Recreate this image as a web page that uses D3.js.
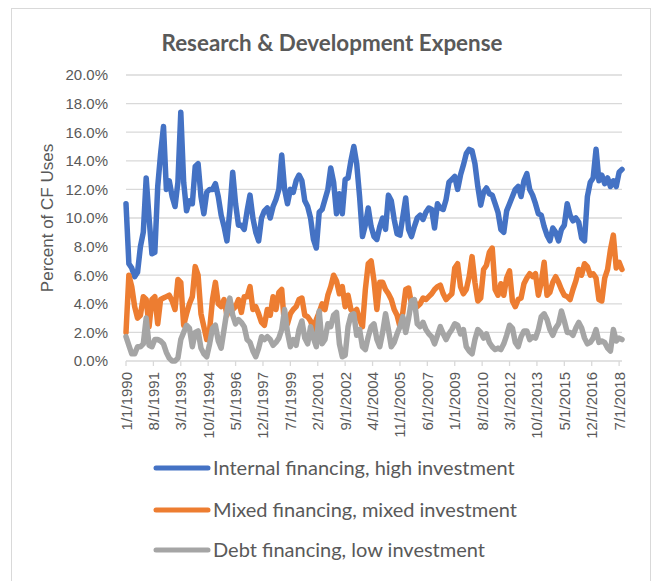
<!DOCTYPE html>
<html lang="en">
<head>
<meta charset="UTF-8">
<title>Research &amp; Development Expense</title>
<script src="https://d3js.org/d3.v7.min.js"></script>
<style>
  body { margin: 0; background: #fff; }
  svg { display: block; }
  .tick-label { font-family: "Liberation Sans", Arial, sans-serif; font-size: 15px; fill: #595959; }
  .axis-title { font-family: "Liberation Sans", Arial, sans-serif; font-size: 17px; fill: #595959; }
  .chart-title { font-family: Lato, "Open Sans", sans-serif; font-size: 22.4px; font-weight: bold; fill: #595959; }
  .legend-text { font-family: Lato, "Open Sans", sans-serif; font-size: 20px; fill: #595959; }
</style>
</head>
<body>
<svg id="chart" width="653" height="581"></svg>
<script>
// one reading every two months, counted from 1/1/1990
const monthIndex = d3.range(0, 345, 2);

const tickMonths = [0, 19, 38, 57, 76, 95, 114, 133, 152, 171, 190, 209, 228, 247, 266, 285, 304, 323, 342];
const tickLabels = ["1/1/1990", "8/1/1991", "3/1/1993", "10/1/1994", "5/1/1996", "12/1/1997", "7/1/1999",
    "2/1/2001", "9/1/2002", "4/1/2004", "11/1/2005", "6/1/2007", "1/1/2009", "8/1/2010", "3/1/2012",
    "10/1/2013", "5/1/2015", "12/1/2016", "7/1/2018"];

const yTicks = [0, 0.02, 0.04, 0.06, 0.08, 0.10, 0.12, 0.14, 0.16, 0.18, 0.20];

const seriesNames = ["Internal financing, high investment", "Mixed financing, mixed investment", "Debt financing, low investment"];
const seriesColors = ["#4472C4", "#ED7D31", "#A5A5A5"];

// percent values
const internalHigh = [
    11.0, 6.8, 6.5, 5.9, 6.2, 8.0, 9.0, 12.8, 10.0, 7.5,
    7.6, 12.2, 14.5, 16.4, 12.0, 12.6, 11.5, 10.8, 12.5, 17.4,
    12.5, 10.5, 11.2, 11.0, 13.6, 13.8, 11.5, 10.3, 11.8, 12.0,
    12.0, 12.4, 11.5, 10.2, 9.4, 8.4, 10.5, 13.2, 11.0, 9.5,
    9.5, 9.2, 10.5, 11.6, 10.0, 9.0, 8.4, 10.0, 10.5, 10.7,
    10.0, 10.8, 11.3, 12.0, 14.4, 12.0, 11.0, 12.0, 11.8, 12.6,
    13.0, 12.6, 11.2, 10.8, 10.0, 8.5, 7.9, 10.4, 10.6, 11.3,
    12.0, 13.5, 12.5, 10.3, 11.7, 10.3, 12.7, 12.8, 14.0, 15.0,
    13.8, 11.5, 8.7, 9.5, 10.7, 9.4, 8.7, 8.5, 9.4, 10.0,
    9.2, 11.6, 11.2, 9.9, 8.9, 8.8, 10.1, 11.4, 9.2, 8.7,
    9.4, 10.0, 10.2, 9.9, 10.4, 10.7, 10.6, 9.3, 11.0, 10.7,
    10.6, 11.3, 12.5, 12.7, 12.9, 12.0, 13.0, 13.7, 14.5, 14.8,
    14.7, 13.8, 12.2, 10.9, 11.8, 12.1, 11.7, 11.6, 11.0, 10.4,
    9.2, 9.0, 10.5, 11.0, 11.5, 12.0, 12.2, 11.5, 12.6, 13.1,
    12.0, 11.6, 11.0, 10.3, 10.2, 9.4, 8.8, 8.4, 9.3, 9.0,
    8.4, 9.2, 9.5, 11.0, 10.2, 9.8, 10.0, 9.7, 8.6, 8.4,
    11.5, 12.5, 12.8, 14.8, 12.6, 13.0, 12.4, 12.8, 12.2, 12.6,
    12.2, 13.2, 13.4
];

const mixedMixed = [
    2.0, 6.0, 5.2, 3.8, 3.0, 3.2, 4.5, 4.3, 2.4, 4.3,
    4.5, 2.6, 4.3, 4.4, 4.5, 4.6, 4.2, 3.6, 5.7, 5.5,
    2.5, 3.3, 4.0, 4.5, 6.6, 6.0, 3.3, 2.4, 1.5, 2.2,
    4.3, 5.5, 4.0, 3.8, 4.3, 3.2, 4.2, 3.6, 3.8, 4.3,
    3.4, 4.5, 4.5, 5.2, 3.6, 3.8, 3.3, 2.7, 2.5, 3.6,
    3.2, 4.5, 3.6, 4.8, 5.0, 2.4, 2.6, 3.3, 3.6, 3.8,
    4.3, 4.4, 3.2, 3.1, 2.8, 2.2, 2.9, 3.4, 4.0, 3.6,
    4.6, 5.2, 6.0, 5.6, 4.7, 5.2, 3.8, 4.6, 3.6, 3.4,
    3.6, 2.9, 2.4, 5.0, 6.8, 7.0, 5.6, 3.6, 5.5, 5.5,
    5.0, 4.7, 4.3, 3.6, 3.2, 2.4, 3.4, 5.0, 5.1, 4.0,
    4.2, 3.8, 4.0, 4.4, 4.3, 4.5, 4.7, 5.0, 5.2, 5.3,
    4.7, 4.3, 4.5, 4.7, 6.5, 6.8, 5.2, 4.7, 5.0, 5.9,
    7.3, 5.5, 4.2, 4.4, 6.4, 6.7, 7.6, 7.9, 5.0, 4.6,
    5.4, 4.6, 5.8, 6.3, 4.2, 3.8, 4.3, 4.4, 5.4, 5.8,
    6.1, 5.9, 6.1, 4.6, 5.5, 6.9, 4.6, 4.8, 5.5, 5.9,
    5.5, 5.0, 4.6, 4.5, 4.3, 5.0, 5.6, 6.4, 6.0, 6.8,
    6.6, 6.0, 6.1, 5.8, 4.3, 4.2, 5.8, 6.4, 7.8, 8.8,
    6.5, 6.9, 6.4
];

const debtLow = [
    1.7, 1.1, 0.5, 0.5, 1.0, 1.0, 1.2, 3.0, 1.1, 1.0,
    1.5, 1.5, 1.4, 1.2, 0.6, 0.2, 0.0, 0.0, 0.2, 1.5,
    2.0, 2.5, 2.3, 1.0, 2.0, 2.1, 0.9, 0.5, 0.3, 1.2,
    2.3, 2.5, 1.4, 0.9, 2.2, 3.5, 4.4, 3.2, 2.6, 2.9,
    2.7, 2.4, 1.5, 1.3, 0.7, 0.3, 0.9, 1.7, 1.5, 1.7,
    1.5, 1.1, 1.3, 1.6, 2.2, 3.6, 2.0, 1.0, 1.5, 1.1,
    2.2, 2.8, 1.6, 1.2, 2.4, 1.6, 1.0, 3.5, 1.2, 1.5,
    2.6, 2.4, 3.2, 3.4, 1.2, 0.3, 0.4, 2.4, 3.2, 3.3,
    1.8, 2.2, 1.0, 0.8, 1.7, 2.4, 2.6, 1.5, 1.0, 2.0,
    3.3, 2.2, 1.0, 1.3, 1.9, 2.4, 3.1, 2.0, 3.0, 4.2,
    4.3, 2.6, 2.4, 2.7, 2.2, 1.9, 1.7, 1.2, 1.8, 2.4,
    1.9, 1.5, 1.9, 2.2, 2.6, 2.5, 1.9, 2.2, 1.0, 0.7,
    0.5, 1.5, 2.2, 2.0, 1.6, 1.9, 1.3, 1.0, 0.8, 0.9,
    0.8, 1.2, 1.8, 2.5, 2.3, 1.3, 1.0, 1.7, 2.1, 2.1,
    1.5, 1.7, 1.6, 2.2, 3.1, 3.3, 2.9, 2.2, 1.8, 2.3,
    2.6, 3.5, 2.8, 2.0, 2.0, 1.8, 2.3, 2.7, 2.3, 1.6,
    1.2, 1.3, 1.6, 2.2, 1.3, 1.4, 1.3, 0.9, 0.7, 2.2,
    1.4, 1.6, 1.5
];

const allSeries = [internalHigh, mixedMixed, debtLow];

const svg = d3.select("#chart");

// chart frame
svg.append("rect")
    .attr("x", 11.5).attr("y", 8.5)
    .attr("width", 639).attr("height", 600)
    .attr("fill", "#fff")
    .attr("stroke", "#d9d9d9")
    .attr("stroke-width", 1);

const x = d3.scaleLinear().domain([0, 344]).range([126, 622]);
const y = d3.scaleLinear().domain([0, 0.20]).range([361, 75]);

// gridlines
svg.append("g")
    .selectAll("line")
    .data(yTicks.slice(1))
    .join("line")
    .attr("x1", x(0)).attr("x2", x(344))
    .attr("y1", d => y(d)).attr("y2", d => y(d))
    .attr("stroke", "#d9d9d9")
    .attr("stroke-width", 1.3);

// y axis labels
svg.append("g")
    .selectAll("text")
    .data(yTicks)
    .join("text")
    .attr("class", "tick-label")
    .attr("x", 108)
    .attr("y", d => y(d))
    .attr("dy", "0.36em")
    .attr("text-anchor", "end")
    .text(d3.format(".1%"));

// x axis line and ticks
svg.append("line")
    .attr("x1", x(0)).attr("x2", x(344))
    .attr("y1", y(0)).attr("y2", y(0))
    .attr("stroke", "#d9d9d9")
    .attr("stroke-width", 1.3);

svg.append("g")
    .selectAll("line")
    .data(tickMonths)
    .join("line")
    .attr("x1", d => x(d)).attr("x2", d => x(d))
    .attr("y1", y(0)).attr("y2", y(0) + 5)
    .attr("stroke", "#d9d9d9")
    .attr("stroke-width", 1.3);

svg.append("g")
    .selectAll("text")
    .data(tickMonths)
    .join("text")
    .attr("class", "tick-label")
    .attr("text-anchor", "end")
    .attr("transform", (d, i) => `translate(${x(d) + 5.5},${y(0) + 11}) rotate(-90)`)
    .text((d, i) => tickLabels[i]);

// series lines
const line = d3.line()
    .x((d, i) => x(monthIndex[i]))
    .y(d => y(d / 100));

svg.append("g")
    .selectAll("path")
    .data(allSeries)
    .join("path")
    .attr("fill", "none")
    .attr("stroke", (d, i) => seriesColors[i])
    .attr("stroke-width", 5.5)
    .attr("stroke-linejoin", "round")
    .attr("stroke-linecap", "round")
    .attr("d", line);

// titles
svg.append("text")
    .attr("class", "chart-title")
    .attr("x", 332)
    .attr("y", 51)
    .attr("text-anchor", "middle")
    .text("Research & Development Expense");

svg.append("text")
    .attr("class", "axis-title")
    .attr("text-anchor", "middle")
    .attr("transform", `translate(53,${(y(0) + y(0.20)) / 2}) rotate(-90)`)
    .text("Percent of CF Uses");

// legend
const legendRows = [468, 510, 550];
const legend = svg.append("g");
seriesNames.forEach((name, i) => {
    legend.append("line")
        .attr("x1", 156).attr("x2", 208)
        .attr("y1", legendRows[i]).attr("y2", legendRows[i])
        .attr("stroke", seriesColors[i])
        .attr("stroke-width", 5)
        .attr("stroke-linecap", "round");
    legend.append("text")
        .attr("class", "legend-text")
        .attr("x", 213)
        .attr("y", legendRows[i])
        .attr("dy", "0.35em")
        .text(name);
});
</script>
</body>
</html>
